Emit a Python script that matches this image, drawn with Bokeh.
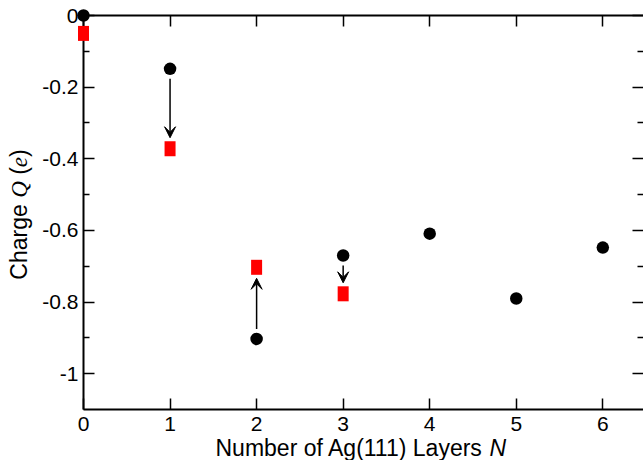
import math
from bokeh.plotting import figure
from bokeh.models import (Range1d, LinearAxis, FixedTicker, Arrow, VeeHead,
                          ColumnDataSource, CustomJSTickFormatter)
from bokeh.core.properties import value
from bokeh.embed import file_html
from bokeh.resources import INLINE

# ---- data ----
layers = [0, 1, 2, 3, 4, 5, 6]
charge_black = [0.0, -0.149, -0.903, -0.670, -0.609, -0.790, -0.648]
layers_red = [0, 1, 2, 3]
charge_red = [-0.050, -0.372, -0.703, -0.777]
arrow_layers = [1, 2, 3]
x_ticks = [0, 1, 2, 3, 4, 5, 6]
y_ticks = [0, -0.2, -0.4, -0.6, -0.8, -1.0]
y_tick_labels = ["0", "-0.2", "-0.4", "-0.6", "-0.8", "-1"]
y_minor = [-0.1, -0.3, -0.5, -0.7, -0.9]

W, H = 643, 460
L, R, T, B = 83, 0, 15, 51
x0, x1 = 0.0, 6.47
y0, y1 = -1.1, 0.0
fw, fh = W - L - R, H - T - B
ppy = fh / (y1 - y0)
ppx = fw / (x1 - x0)

p = figure(width=W, height=H, output_backend="svg", toolbar_location=None,
           x_range=Range1d(x0, x1), y_range=Range1d(y0, y1),
           x_axis_location=None, y_axis_location=None,
           min_border_left=L, min_border_right=R, min_border_top=T, min_border_bottom=B)
p.grid.visible = False
p.outline_line_color = None
p.background_fill_color = "white"
p.border_fill_color = "white"

SANS = "Liberation Sans"
SERIF = "Liberation Serif"

def style(ax, labels=True):
    ax.axis_line_color = "black"
    ax.axis_line_width = 2
    ax.major_tick_line_color = "black"
    ax.major_tick_line_width = 1.5
    ax.minor_tick_line_color = "black"
    ax.minor_tick_line_width = 1.5
    ax.major_tick_in = 11
    ax.major_tick_out = 0
    ax.minor_tick_in = 6
    ax.minor_tick_out = 0
    ax.major_label_text_font = SANS
    ax.major_label_text_font_size = "21px"
    ax.major_label_text_color = "black"
    if not labels:
        ax.formatter = CustomJSTickFormatter(code="return ''")
        ax.major_label_standoff = 0

xb = LinearAxis(ticker=FixedTicker(ticks=x_ticks))
style(xb)
xb.major_label_standoff = 7
p.add_layout(xb, "below")
xt = LinearAxis(ticker=FixedTicker(ticks=x_ticks))
style(xt, labels=False)
p.add_layout(xt, "above")

yl = LinearAxis(ticker=FixedTicker(ticks=y_ticks, minor_ticks=y_minor))
style(yl)
yl.major_label_overrides = {t: s for t, s in zip(y_ticks, y_tick_labels)}
yl.major_label_standoff = 5
p.add_layout(yl, "left")
yr = LinearAxis(ticker=FixedTicker(ticks=y_ticks, minor_ticks=y_minor))
style(yr, labels=False)
yr.axis_line_color = None
p.add_layout(yr, "right")

# markers (overlay level so they are not clipped at the frame edge)
p.rect(x=layers_red, y=charge_red, width=11, height=15, width_units="screen",
       height_units="screen", fill_color="#ff0000", line_color=None, level="overlay")
p.scatter(x=layers, y=charge_black, size=12.5, marker="circle",
          fill_color="black", line_color=None, level="overlay")

# arrows from black to red
bmap = dict(zip(layers, charge_black))
rmap = dict(zip(layers_red, charge_red))
xs, ys0, ys1 = [], [], []
for n in arrow_layers:
    b, r = bmap[n], rmap[n]
    s = 1 if r > b else -1
    xs.append(n)
    ys0.append(b + s * 10 / ppy)
    ys1.append(r - s * 11 / ppy)
asrc = ColumnDataSource(dict(x0=xs, y0=ys0, x1=xs, y1=ys1))
p.add_layout(Arrow(x_start="x0", y_start="y0", x_end="x1", y_end="y1", source=asrc,
                   line_color="black", line_width=1.5,
                   end=VeeHead(size=11, fill_color="black", line_color="black", line_width=1)))

def px2x(px):
    return x0 + (px - L) / ppx

def py2y(py):
    return y1 - (py - T) / ppy

# x axis label
FS = 23
ax_anchor_px = 482.6
base_py = 447.5
p.text(x=[px2x(ax_anchor_px)], y=[py2y(base_py)], text=["Number of Ag(111) Layers"],
       text_font=value(SANS), text_font_size=f"{FS}px", text_align="right",
       text_baseline="alphabetic", text_color="black", level="overlay")
p.text(x=[px2x(ax_anchor_px + 6.4)], y=[py2y(base_py)], text=["N"],
       text_font=value(SANS), text_font_size=f"{FS}px", text_font_style="italic",
       text_align="left", text_baseline="alphabetic", text_color="black", level="overlay")

# y axis label, rotated, composed of pieces
pieces = [("Charge", SANS, "normal", 3.279, 0.0),
          ("Q", SERIF, "italic", 0.722, 0.278),
          ("(", SANS, "normal", 0.333, 0.278),
          ("e", SERIF, "italic", 0.444, 0.0),
          (")", SANS, "normal", 0.333, 0.0)]
starts = []
pos = 0.0
for txt, fnt, sty, w, pre in pieces:
    pos += pre * FS
    starts.append(pos)
    pos += w * FS
total = pos
ycenter_px = 214
base_x_px = 18.5
ystart_px = ycenter_px + total / 2
for (txt, fnt, sty, w, pre), st in zip(pieces, starts):
    p.text(x=[px2x(base_x_px)], y=[py2y(ystart_px - st)], text=[txt],
           text_font=value(fnt), text_font_size=f"{FS}px", text_font_style=sty,
           angle=math.pi / 2, text_align="left", text_baseline="alphabetic",
           text_color="black", level="overlay")

open("out.html", "w").write(file_html(p, INLINE))
